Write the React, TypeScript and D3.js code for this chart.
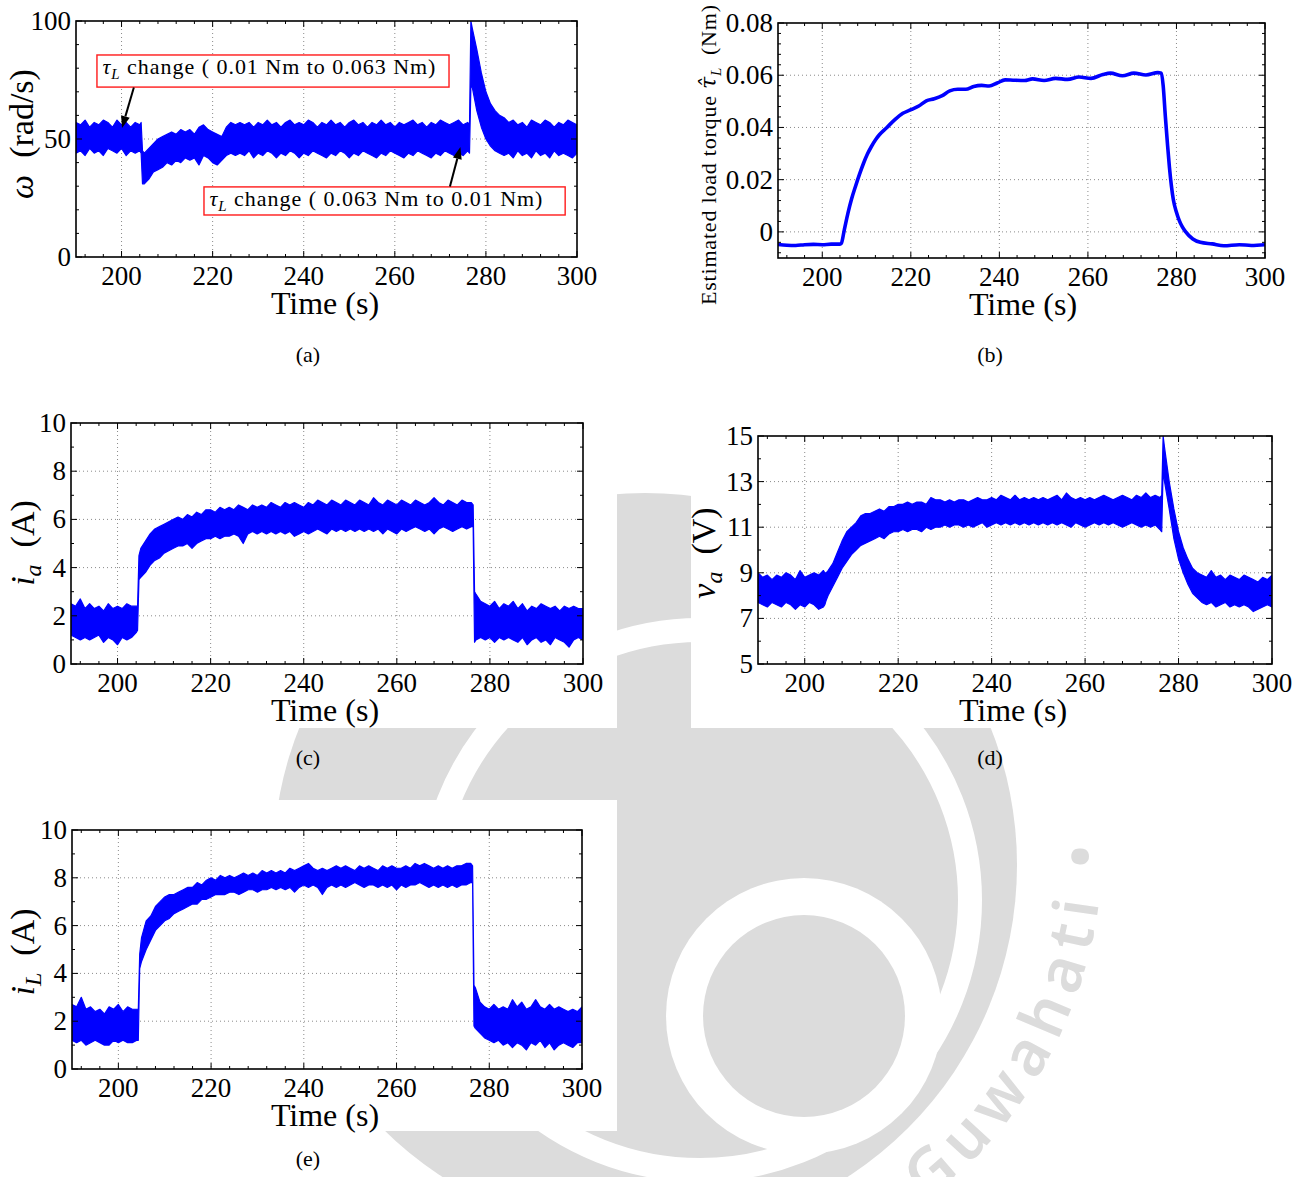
import React from 'react';
import * as d3 from 'd3';

const FONT = "'Liberation Serif', 'Times New Roman', Times, serif";
const BLUE = '#0000ff';
const WM = '#dcdcdc';

// ---------- shared axis data ----------
const X_DOMAIN: [number, number] = [190, 300];
const X_TICKS = [200, 220, 240, 260, 280, 300];
const X_MINOR = [192, 196, 204, 208, 212, 216, 224, 228, 232, 236, 244, 248, 252, 256, 264, 268, 272, 276, 284, 288, 292, 296];
const X_GRID = [200, 220, 240, 260, 280];

// sampling instants of the noisy records (s)
const T_GRID = [
  190, 191, 192, 193, 194, 195, 196, 197, 198, 199, 200, 201, 202, 203, 204,
  204.3, 204.6,
  205, 206, 207, 208, 209, 210, 211, 212, 213, 214,
  215, 216, 217, 218, 219, 220, 221, 222, 223, 224,
  225, 226, 227, 228, 229, 230, 231, 232, 233, 234,
  235, 236, 237, 238, 239, 240, 241, 242, 243, 244,
  245, 246, 247, 248, 249, 250, 251, 252, 253, 254,
  255, 256, 257, 258, 259, 260, 261, 262, 263, 264,
  265, 266, 267, 268, 269, 270, 271, 272, 273, 274,
  275, 276,
  276.4, 276.7,
  277, 278, 279, 280, 281, 282, 283, 284, 285, 286, 287, 288, 289, 290, 291, 292, 293, 294, 295, 296, 297, 298, 299, 300,
];

// (a) speed omega (rad/s): envelope of the noisy record
const OMEGA_HI = [
  57, 56, 58, 55, 57, 56, 58, 57, 55, 58, 56, 57, 55, 57, 56,
  57, 45,
  44, 46, 48, 50, 51, 52, 53, 52, 54, 53,
  54, 52, 55, 56, 54, 53, 52, 51, 55, 57,
  56, 57, 56, 57, 55, 57, 56, 58, 56, 57,
  55, 57, 58, 56, 57, 56, 58, 57, 55, 57,
  56, 58, 56, 57, 55, 57, 58, 56, 57, 55,
  57, 56, 58, 56, 57, 55, 57, 56, 57, 58,
  56, 57, 55, 57, 56, 58, 57, 56, 57, 58,
  56, 57,
  56, 100,
  97, 88, 78, 70, 65, 62, 60, 59, 57, 58, 56, 57, 55, 58, 57, 56, 58, 57, 55, 57, 56, 58, 57, 56,
];
const OMEGA_LO = [
  44, 45, 43, 46, 44, 45, 43, 46, 45, 44, 46, 43, 45, 44, 45,
  44, 31,
  31, 33, 36, 37, 38, 40, 39, 41, 40, 42,
  41, 42, 39, 43, 42, 40, 39, 41, 43, 44,
  43, 44, 43, 45, 42, 44, 43, 45, 44, 42,
  44, 43, 45, 44, 42, 44, 43, 45, 44, 43,
  42, 44, 43, 45, 44, 42, 44, 43, 45, 44,
  43, 42, 44, 43, 45, 44, 43, 42, 44, 43,
  45, 44, 43, 42, 44, 43, 45, 44, 43, 44,
  43, 45,
  44, 72,
  72, 62, 55, 50, 47, 45, 44, 43, 44, 42, 45, 43, 44, 42, 45, 43, 44, 42, 45, 43, 44, 43, 42, 44,
];

// (b) estimated load torque (Nm)
const TAU_T = [
  190, 192, 194, 196, 198, 200, 202, 204, 204.3, 205, 205.8, 206.6, 207.5, 208.4, 209.3, 210.2, 211.1, 212, 212.9,
  214.6, 216.4, 218.2, 220, 221.8, 223.5, 225.3, 227.1, 228.8, 230.6, 232.4, 234.2, 236, 237.7, 239.5, 241.3, 243.1,
  245.7, 247.5, 250.1, 252.7, 255.4, 258, 260.7, 263.4, 265.1, 267.8, 270.4, 273.1, 275.8, 276.6, 277, 277.5, 278,
  278.4, 279.3, 280, 280.6, 281.3, 282, 283.7, 285.4, 288.1, 290.7, 294.2, 296.9, 300,
];
const TAU_V = [
  -0.0048, -0.0051, -0.0052, -0.0049, -0.0048, -0.0049, -0.0047, -0.0047, -0.0044, 0.001, 0.0072, 0.0125, 0.0174,
  0.022, 0.0262, 0.0298, 0.0327, 0.0352, 0.0372, 0.04, 0.043, 0.0454, 0.0468, 0.0482, 0.0502, 0.051, 0.0522, 0.054,
  0.0546, 0.0546, 0.0557, 0.0561, 0.0559, 0.057, 0.0582, 0.0581, 0.058, 0.0586, 0.058, 0.0588, 0.0584, 0.0593, 0.0588,
  0.0603, 0.0608, 0.0598, 0.0608, 0.0601, 0.061, 0.0608, 0.056, 0.044, 0.033, 0.025, 0.0123, 0.0075, 0.0045, 0.002,
  0.0002, -0.0027, -0.004, -0.0046, -0.0053, -0.0049, -0.0052, -0.0049,
];

// (c) armature current i_a (A)
const IA_HI = [
  2.5, 2.4, 2.7, 2.3, 2.5, 2.3, 2.4, 2.2, 2.5, 2.3, 2.4, 2.3, 2.5, 2.4, 2.4,
  2.4, 4.5,
  4.8, 5.1, 5.4, 5.6, 5.7, 5.8, 5.9, 6.0, 6.1, 6.0,
  6.2, 6.1, 6.3, 6.2, 6.4, 6.4, 6.3, 6.5, 6.4, 6.5,
  6.4, 6.6, 6.5, 6.4, 6.6, 6.5, 6.6, 6.5, 6.7, 6.6,
  6.5, 6.7, 6.6, 6.7, 6.6, 6.5, 6.7, 6.6, 6.8, 6.7,
  6.6, 6.8, 6.7, 6.6, 6.8, 6.7, 6.6, 6.8, 6.7, 6.6,
  6.9, 6.7, 6.6, 6.8, 6.7, 6.6, 6.8, 6.7, 6.6, 6.8,
  6.7, 6.6, 6.7, 6.9, 6.7, 6.6, 6.8, 6.7, 6.6, 6.8,
  6.7, 6.7,
  6.6, 3.0,
  2.9, 2.6, 2.5, 2.4, 2.6, 2.3, 2.5, 2.4, 2.6, 2.3, 2.5, 2.2, 2.4, 2.3, 2.5, 2.4, 2.3, 2.4, 2.2, 2.4, 2.3, 2.4, 2.3, 2.3,
];
const IA_LO = [
  1.2, 1.1, 1.0, 1.1, 1.0, 1.1, 1.2, 0.9, 1.1, 1.0, 0.8, 1.1, 1.0, 1.1, 1.3,
  1.4, 3.5,
  3.6, 3.8, 4.1, 4.3, 4.4, 4.6, 4.7, 4.8, 4.9, 4.9,
  5.0, 4.8, 5.0, 5.1, 5.2, 5.2, 5.3, 5.2, 5.3, 5.3,
  5.4, 5.3, 5.0, 5.4, 5.5, 5.4, 5.5, 5.4, 5.5, 5.4,
  5.5, 5.4, 5.5, 5.3, 5.4, 5.5, 5.4, 5.5, 5.6, 5.5,
  5.4, 5.6, 5.5, 5.6, 5.5, 5.6, 5.5, 5.6, 5.5, 5.6,
  5.5, 5.6, 5.4, 5.6, 5.5, 5.4, 5.6, 5.5, 5.6, 5.7,
  5.6, 5.5, 5.6, 5.4, 5.6, 5.7, 5.6, 5.5, 5.6, 5.7,
  5.6, 5.7,
  5.7, 0.9,
  1.0, 1.1, 1.0, 1.1, 0.9, 1.1, 1.0, 1.1, 1.0, 0.9, 1.1, 0.8, 1.0, 1.1, 0.9, 1.0, 0.8, 1.1, 1.0, 0.9, 0.7, 1.0, 1.1, 1.0,
];

// (d) armature voltage v_a (V)
const VA_HI = [
  9.0, 8.8, 8.9, 8.7, 8.9, 8.8, 9.0, 8.9, 8.7, 9.1, 8.8, 8.9, 9.0, 8.9, 9.1,
  9.0, 9.0,
  9.1, 9.4, 9.9, 10.4, 10.8, 11.0, 11.2, 11.5, 11.6, 11.6,
  11.7, 11.8, 11.7, 11.9, 11.9, 12.0, 12.0, 12.1, 12.0, 12.1,
  12.1, 12.0, 12.3, 12.2, 12.2, 12.1, 12.2, 12.1, 12.2, 12.2,
  12.1, 12.2, 12.3, 12.2, 12.2, 12.3, 12.2, 12.4, 12.3, 12.2,
  12.4, 12.2, 12.3, 12.2, 12.3, 12.2, 12.3, 12.2, 12.3, 12.4,
  12.2, 12.5, 12.3, 12.2, 12.3, 12.2, 12.3, 12.2, 12.3, 12.4,
  12.3, 12.2, 12.3, 12.4, 12.3, 12.2, 12.4, 12.3, 12.5, 12.3,
  12.4, 12.3,
  12.4, 15.0,
  14.5, 13.0, 11.8, 10.8, 10.1, 9.6, 9.2, 9.0, 8.9, 8.8, 9.1, 8.8, 8.9, 8.7, 8.9, 8.8, 8.7, 8.9, 8.8, 8.7, 8.6, 8.8, 8.7, 8.9,
];
const VA_LO = [
  7.7, 7.6, 7.5, 7.7, 7.6, 7.5, 7.7, 7.6, 7.4, 7.6, 7.5, 7.7, 7.6, 7.4, 7.5,
  7.6, 7.8,
  8.0, 8.4, 8.8, 9.2, 9.5, 9.8, 10.0, 10.2, 10.3, 10.4,
  10.5, 10.6, 10.5, 10.7, 10.8, 10.8, 10.9, 10.8, 10.9, 10.9,
  10.8, 11.0, 10.9, 11.0, 11.0, 11.1, 11.0, 11.1, 11.1, 11.0,
  11.1, 11.0, 11.1, 11.2, 11.0, 11.1, 11.2, 11.1, 11.2, 11.1,
  11.2, 11.1, 11.2, 11.1, 11.2, 11.1, 11.2, 11.1, 11.2, 11.1,
  11.2, 11.1, 11.0, 11.2, 11.1, 11.0, 11.1, 11.2, 11.1, 11.2,
  11.1, 11.2, 11.1, 11.0, 11.1, 11.2, 11.1, 11.0, 11.1, 11.0,
  11.1, 10.9,
  10.8, 13.5,
  13.0, 11.8, 10.5, 9.6, 9.0, 8.5, 8.1, 7.9, 7.7, 7.6, 7.7, 7.5, 7.6, 7.7, 7.5, 7.6, 7.5, 7.6, 7.5, 7.3, 7.4, 7.5, 7.6, 7.5,
];

// (e) inductor current i_L (A)
const IL_HI = [
  2.7, 2.6, 3.0, 2.5, 2.6, 2.4, 2.5, 2.3, 2.6, 2.5, 2.7, 2.4, 2.6, 2.5, 2.5,
  2.5, 4.8,
  5.5, 6.2, 6.4, 6.8, 7.0, 7.2, 7.3, 7.3, 7.4, 7.5,
  7.6, 7.6, 7.8, 7.7, 7.9, 8.0, 7.9, 8.1, 8.0, 8.1,
  8.0, 8.1, 8.2, 8.1, 8.2, 8.1, 8.3, 8.2, 8.3, 8.2,
  8.3, 8.2, 8.4, 8.3, 8.4, 8.5, 8.6, 8.4, 8.3, 8.4,
  8.3, 8.4, 8.5, 8.4, 8.5, 8.4, 8.3, 8.5, 8.4, 8.5,
  8.4, 8.3, 8.5, 8.4, 8.5, 8.4, 8.4, 8.5, 8.4, 8.6,
  8.5, 8.6, 8.5, 8.4, 8.5, 8.4, 8.5, 8.4, 8.5, 8.5,
  8.6, 8.6,
  8.5, 3.5,
  3.4, 2.8, 2.6, 2.5, 2.7, 2.5, 2.6, 2.5, 2.9, 2.6, 2.8, 2.5, 2.6, 2.9, 2.6, 2.5, 2.7, 2.5, 2.6, 2.5, 2.4, 2.5, 2.4, 2.6,
];
const IL_LO = [
  1.2, 1.1, 1.2, 1.0, 1.1, 1.2, 1.1, 1.0, 1.0, 1.2, 1.1, 1.2, 1.1, 1.1, 1.2,
  1.2, 4.2,
  4.5, 5.0, 5.4, 5.8, 6.0, 6.2, 6.3, 6.5, 6.6, 6.7,
  6.8, 6.9, 6.9, 7.1, 7.1, 7.2, 7.3, 7.3, 7.3, 7.4,
  7.4, 7.3, 7.4, 7.5, 7.5, 7.4, 7.5, 7.5, 7.6, 7.5,
  7.6, 7.5, 7.6, 7.4, 7.6, 7.7, 7.6, 7.7, 7.6, 7.3,
  7.6, 7.7, 7.6, 7.7, 7.6, 7.7, 7.8, 7.7, 7.6, 7.7,
  7.7, 7.6, 7.7, 7.6, 7.7, 7.5, 7.7, 7.6, 7.7, 7.7,
  7.8, 7.7, 7.6, 7.7, 7.6, 7.7, 7.6, 7.7, 7.6, 7.7,
  7.7, 7.8,
  7.8, 1.8,
  1.7, 1.5, 1.3, 1.2, 1.1, 1.2, 1.0, 1.1, 0.9, 1.1, 1.0, 0.8, 1.1, 1.0, 1.2, 0.9, 1.1, 0.8, 1.0, 1.1, 1.0, 0.9, 1.1, 1.1,
];

// y-axis tick lists
const A_TICKS = [0, 50, 100];
const A_MINOR = [10, 20, 30, 40, 60, 70, 80, 90];
const A_GRID = [50];
const B_TICKS = [0, 0.02, 0.04, 0.06, 0.08];
const B_TICK_LABELS = ['0', '0.02', '0.04', '0.06', '0.08'];
const B_MINOR = [-0.008, -0.004, 0.004, 0.008, 0.012, 0.016, 0.024, 0.028, 0.032, 0.036, 0.044, 0.048, 0.052, 0.056, 0.064, 0.068, 0.072, 0.076];
const B_GRID = [0, 0.02, 0.04, 0.06];
const C_TICKS = [0, 2, 4, 6, 8, 10];
const C_MINOR = [1, 3, 5, 7, 9];
const C_GRID = [2, 4, 6, 8];
const D_TICKS = [5, 7, 9, 11, 13, 15];
const D_MINOR = [6, 8, 10, 12, 14];
const D_GRID = [7, 9, 11, 13];

// annotations of panel (a), in data units (t, omega)
const ANN_TEXT = ['0.01 Nm to 0.063 Nm', '0.063 Nm to 0.01 Nm'];
const ANN_BOX = [
  [194.6, 271.9, 85.6, 72.0],
  [218.1, 297.4, 29.7, 17.8],
];
const ANN_TEXT_POS = [
  [195.8, 77.4],
  [219.3, 21.8],
];
const ANN_ARROW = [
  [202.7, 71.8, 200.1, 54.7],
  [272.1, 29.9, 274.4, 46.6],
];

type Sc = d3.ScaleLinear<number, number>;

function Band({ x, y, t, lo, hi }: { x: Sc; y: Sc; t: number[]; lo: number[]; hi: number[] }) {
  const n = Math.min(t.length, lo.length, hi.length);
  const pts = d3.range(n).map((i) => ({ t: t[i], lo: lo[i], hi: hi[i] }));
  const area = d3
    .area<{ t: number; lo: number; hi: number }>()
    .x((d) => x(d.t))
    .y0((d) => y(d.lo))
    .y1((d) => y(d.hi));
  return <path d={area(pts) || ''} fill={BLUE} stroke={BLUE} strokeWidth={1.2} strokeLinejoin="round" />;
}

type PanelProps = {
  id: string;
  box: [number, number, number, number];
  yDomain: [number, number];
  yTicks: number[];
  yTickLabels?: string[];
  yMinor: number[];
  yGrid: number[];
  ylabel: React.ReactNode;
  ylabelX: number;
  ylabelY: number;
  ylabelSize: number;
  ylabelLength?: number;
  xlabelX: number;
  sub: string;
  subX: number;
  subY: number;
  render: (x: Sc, y: Sc) => React.ReactNode;
  extra?: (x: Sc, y: Sc) => React.ReactNode;
};

function Panel(p: PanelProps) {
  const [L, T, R, B] = p.box;
  const x = d3.scaleLinear().domain(X_DOMAIN).range([L, R]);
  const y = d3.scaleLinear().domain(p.yDomain).range([B, T]);
  const MAJ = 6;
  const MIN = 3;
  const gridStyle = { stroke: '#8a8a8a', strokeWidth: 1, strokeDasharray: '1,3' };
  return (
    <g>
      <defs>
        <clipPath id={'clip-' + p.id}>
          <rect x={L} y={T} width={R - L} height={B - T} />
        </clipPath>
      </defs>
      {X_GRID.map((v) => (
        <line key={'gx' + v} x1={x(v)} x2={x(v)} y1={T} y2={B} {...gridStyle} />
      ))}
      {p.yGrid.map((v) => (
        <line key={'gy' + v} x1={L} x2={R} y1={y(v)} y2={y(v)} {...gridStyle} />
      ))}
      <g clipPath={`url(#clip-${p.id})`}>{p.render(x, y)}</g>
      <g stroke="#000" strokeWidth={1}>
        {X_TICKS.map((v) => (
          <g key={'xt' + v}>
            <line x1={x(v)} x2={x(v)} y1={B} y2={B - MAJ} />
            <line x1={x(v)} x2={x(v)} y1={T} y2={T + MAJ} />
          </g>
        ))}
        {X_MINOR.map((v) => (
          <g key={'xm' + v}>
            <line x1={x(v)} x2={x(v)} y1={B} y2={B - MIN} />
            <line x1={x(v)} x2={x(v)} y1={T} y2={T + MIN} />
          </g>
        ))}
        {p.yTicks.map((v) => (
          <g key={'yt' + v}>
            <line x1={L} x2={L + MAJ} y1={y(v)} y2={y(v)} />
            <line x1={R} x2={R - MAJ} y1={y(v)} y2={y(v)} />
          </g>
        ))}
        {p.yMinor.map((v) => (
          <g key={'ym' + v}>
            <line x1={L} x2={L + MIN} y1={y(v)} y2={y(v)} />
            <line x1={R} x2={R - MIN} y1={y(v)} y2={y(v)} />
          </g>
        ))}
      </g>
      <rect x={L} y={T} width={R - L} height={B - T} fill="none" stroke="#000" strokeWidth={1.6} />
      {p.extra ? p.extra(x, y) : null}
      <g fontSize={27} fill="#000">
        {X_TICKS.map((v) => (
          <text key={'xl' + v} x={x(v)} y={B + 28} textAnchor="middle">
            {String(v)}
          </text>
        ))}
        {p.yTicks.map((v, i) => (
          <text key={'yl' + v} x={L - 5} y={y(v) + 9} textAnchor="end">
            {p.yTickLabels ? p.yTickLabels[i] : String(v)}
          </text>
        ))}
      </g>
      <text x={p.xlabelX} y={B + 57} fontSize={32} textAnchor="middle">
        Time (s)
      </text>
      <text
        transform={`translate(${p.ylabelX},${p.ylabelY}) rotate(-90)`}
        fontSize={p.ylabelSize}
        textAnchor="middle"
        textLength={p.ylabelLength}
        lengthAdjust={p.ylabelLength ? 'spacing' : undefined}
      >
        {p.ylabel}
      </text>
      <text x={p.subX} y={p.subY} fontSize={22} textAnchor="middle">
        {p.sub}
      </text>
    </g>
  );
}

function Arrow({ x1, y1, x2, y2 }: { x1: number; y1: number; x2: number; y2: number }) {
  const a = Math.atan2(y2 - y1, x2 - x1);
  const len = 12;
  const w = 4.5;
  const bx = x2 - len * Math.cos(a);
  const by = y2 - len * Math.sin(a);
  const p1 = [bx + w * Math.sin(a), by - w * Math.cos(a)];
  const p2 = [bx - w * Math.sin(a), by + w * Math.cos(a)];
  return (
    <g>
      <line x1={x1} y1={y1} x2={bx} y2={by} stroke="#000" strokeWidth={2} />
      <path d={`M${x2},${y2}L${p1[0]},${p1[1]}L${p2[0]},${p2[1]}Z`} fill="#000" />
    </g>
  );
}

function Annotations(x: Sc, y: Sc) {
  return (
    <g>
      {ANN_BOX.map((b, i) => (
        <g key={'ann' + i}>
          <rect
            x={x(b[0])}
            y={y(b[2])}
            width={x(b[1]) - x(b[0])}
            height={y(b[3]) - y(b[2])}
            fill="#fff"
            stroke="#ff1a1a"
            strokeWidth={1.4}
          />
          <text x={x(ANN_TEXT_POS[i][0])} y={y(ANN_TEXT_POS[i][1])} fontSize={22} textLength={333} lengthAdjust="spacing">
            <tspan fontStyle="italic">τ</tspan>
            <tspan fontStyle="italic" fontSize={15} dy={5}>
              L
            </tspan>
            <tspan dy={-5}>{` change ( ${ANN_TEXT[i]})`}</tspan>
          </text>
          <Arrow x1={x(ANN_ARROW[i][0])} y1={y(ANN_ARROW[i][1])} x2={x(ANN_ARROW[i][2])} y2={y(ANN_ARROW[i][3])} />
        </g>
      ))}
    </g>
  );
}

function Watermark() {
  const arc = 'M 841 1253 A 452 452 0 0 0 805 418';
  return (
    <g fill={WM}>
      <circle cx={645} cy={865} r={372} />
      <circle cx={700} cy={900} r={270} fill="none" stroke="#fff" strokeWidth={24} />
      <circle cx={804} cy={1016} r={138} fill="#fff" />
      <circle cx={804} cy={1016} r={101} />
      <defs>
        <path id="wm-arc" d={arc} />
      </defs>
      <text fontFamily="'Noto Sans', 'DejaVu Sans', sans-serif" fontSize={62} fontWeight={600} fill={WM} letterSpacing={9}>
        <textPath href="#wm-arc" startOffset={100}>
          Guwahati •
        </textPath>
      </text>
    </g>
  );
}

export default function App() {
  const lineTau = (x: Sc, y: Sc) => {
    const pts = TAU_T.map((t, i) => [t, TAU_V[i]] as [number, number]);
    const gen = d3
      .line<[number, number]>()
      .x((d) => x(d[0]))
      .y((d) => y(d[1]))
      .curve(d3.curveMonotoneX);
    return <path d={gen(pts) || ''} fill="none" stroke={BLUE} strokeWidth={3.6} strokeLinejoin="round" />;
  };
  return (
    <svg
      width={1305}
      height={1177}
      style={{ position: 'absolute', left: 0, top: 0, display: 'block' }}
      fontFamily={FONT}
    >
      <rect x={0} y={0} width={1305} height={1177} fill="#fff" />
      <Watermark />
      <rect x={0} y={0} width={1305} height={372} fill="#fff" />
      <rect x={0} y={390} width={617} height={338} fill="#fff" />
      <rect x={691} y={390} width={614} height={338} fill="#fff" />
      <rect x={0} y={800} width={617} height={331} fill="#fff" />

      <Panel
        id="a"
        box={[76, 21, 577, 257]}
        yDomain={[0, 100]}
        yTicks={A_TICKS}
        yMinor={A_MINOR}
        yGrid={A_GRID}
        ylabel={
          <>
            <tspan fontStyle="italic">ω</tspan>
            <tspan>{'\u2002(rad/s)'}</tspan>
          </>
        }
        ylabelX={33}
        ylabelY={134}
        ylabelSize={34}
        xlabelX={325}
        sub="(a)"
        subX={308}
        subY={362}
        render={(x, y) => <Band x={x} y={y} t={T_GRID} lo={OMEGA_LO} hi={OMEGA_HI} />}
        extra={Annotations}
      />

      <Panel
        id="b"
        box={[778, 23, 1265, 258]}
        yDomain={[-0.01, 0.08]}
        yTicks={B_TICKS}
        yTickLabels={B_TICK_LABELS}
        yMinor={B_MINOR}
        yGrid={B_GRID}
        ylabel={
          <>
            <tspan>Estimated load torque </tspan>
            <tspan fontStyle="italic" fontFamily="'DejaVu Serif', serif">{'τ\u0302'}</tspan>
            <tspan fontStyle="italic" fontSize={15} dy={5}>
              L
            </tspan>
            <tspan dy={-5}>{'\u2002(Nm)'}</tspan>
          </>
        }
        ylabelX={716}
        ylabelY={155}
        ylabelSize={22}
        ylabelLength={300}
        xlabelX={1023}
        sub="(b)"
        subX={990}
        subY={362}
        render={lineTau}
      />

      <Panel
        id="c"
        box={[71, 423, 583, 664]}
        yDomain={[0, 10]}
        yTicks={C_TICKS}
        yMinor={C_MINOR}
        yGrid={C_GRID}
        ylabel={
          <>
            <tspan fontStyle="italic">i</tspan>
            <tspan fontStyle="italic" fontSize={24} dy={7}>
              a
            </tspan>
            <tspan dy={-7}>{'\u2002(A)'}</tspan>
          </>
        }
        ylabelX={34}
        ylabelY={543}
        ylabelSize={34}
        xlabelX={325}
        sub="(c)"
        subX={308}
        subY={765}
        render={(x, y) => <Band x={x} y={y} t={T_GRID} lo={IA_LO} hi={IA_HI} />}
      />

      <Panel
        id="d"
        box={[758, 436, 1272, 664]}
        yDomain={[5, 15]}
        yTicks={D_TICKS}
        yMinor={D_MINOR}
        yGrid={D_GRID}
        ylabel={
          <>
            <tspan fontStyle="italic">v</tspan>
            <tspan fontStyle="italic" fontSize={24} dy={7}>
              a
            </tspan>
            <tspan dy={-7}>{'\u2002(V)'}</tspan>
          </>
        }
        ylabelX={715}
        ylabelY={553}
        ylabelSize={34}
        xlabelX={1013}
        sub="(d)"
        subX={990}
        subY={765}
        render={(x, y) => <Band x={x} y={y} t={T_GRID} lo={VA_LO} hi={VA_HI} />}
      />

      <Panel
        id="e"
        box={[72, 830, 582, 1069]}
        yDomain={[0, 10]}
        yTicks={C_TICKS}
        yMinor={C_MINOR}
        yGrid={C_GRID}
        ylabel={
          <>
            <tspan fontStyle="italic">i</tspan>
            <tspan fontStyle="italic" fontSize={24} dy={7}>
              L
            </tspan>
            <tspan dy={-7}>{'\u2002(A)'}</tspan>
          </>
        }
        ylabelX={34}
        ylabelY={952}
        ylabelSize={34}
        xlabelX={325}
        sub="(e)"
        subX={308}
        subY={1166}
        render={(x, y) => <Band x={x} y={y} t={T_GRID} lo={IL_LO} hi={IL_HI} />}
      />
    </svg>
  );
}
